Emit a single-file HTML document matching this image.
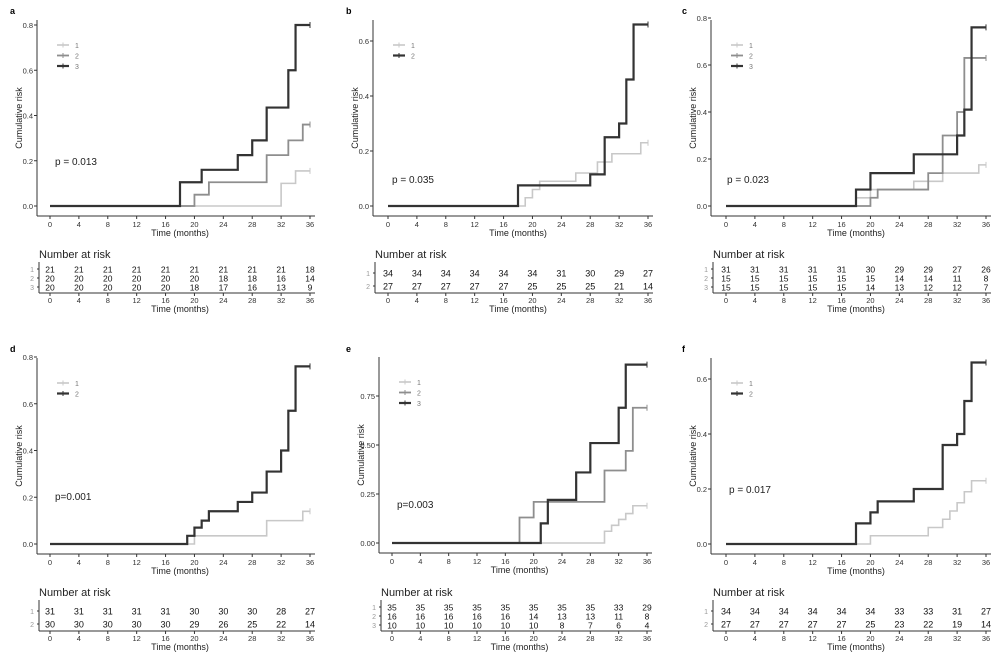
<!DOCTYPE html>
<html><head><meta charset="utf-8"><style>
html,body{margin:0;padding:0;background:#fff}
svg{display:block;font-family:"Liberation Sans",sans-serif}
</style></head><body>
<svg id="s" width="1006" height="660" viewBox="0 0 1006 660" xmlns="http://www.w3.org/2000/svg"></svg>
<script>
const P=[
{lab:'a',ox:0,oy:0,ax:37,x0:50,x36:310,y0:206,ys:45.25/0.2,ticks:[0,0.2,0.4,0.6,0.8],fmt:1,p:'p = 0.013',px:55,py:165,
 s:[[[32,.1],[34,.155]],[[20,.05],[22,.105],[30,.225],[33,.29],[35,.36]],[[18,.105],[21,.16],[26,.225],[28,.29],[30,.435],[33,.6],[34,.8]]],
 risk:[[21,21,21,21,21,21,21,21,21,18],[20,20,20,20,20,20,18,18,16,14],[20,20,20,20,20,18,17,16,13,9]]},
{lab:'b',ox:336,oy:0,ax:373,x0:388,x36:648,y0:206,ys:55/0.2,ticks:[0,0.2,0.4,0.6],fmt:1,p:'p = 0.035',px:392,py:183,
 s:[[[19,.03],[20,.06],[21,.09],[26,.12],[29,.16],[31,.19],[35,.23]],[[18,.075],[28,.115],[30,.25],[32,.3],[33,.46],[34,.66]]],
 risk:[[34,34,34,34,34,34,31,30,29,27],[27,27,27,27,27,25,25,25,21,14]]},
{lab:'c',ox:672,oy:0,ax:711,x0:726,x36:986,y0:206,ys:47/0.2,ticks:[0,0.2,0.4,0.6,0.8],fmt:1,p:'p = 0.023',px:727,py:183,
 s:[[[18,.035],[20,.07],[26,.105],[30,.14],[35,.175]],[[20,.035],[21,.07],[28,.14],[30,.3],[32,.4],[33,.63]],[[18,.07],[20,.14],[26,.22],[32,.3],[33,.41],[34,.76]]],
 risk:[[31,31,31,31,31,30,29,29,27,26],[15,15,15,15,15,15,14,14,11,8],[15,15,15,15,15,14,13,12,12,7]]},
{lab:'d',ox:0,oy:338,ax:37,x0:50,x36:310,y0:544,ys:46.75/0.2,ticks:[0,0.2,0.4,0.6,0.8],fmt:1,p:'p=0.001',px:55,py:500,
 s:[[[20,.035],[30,.1],[35,.14]],[[19,.035],[20,.07],[21,.1],[22,.14],[26,.18],[28,.22],[30,.31],[32,.4],[33,.57],[34,.76]]],
 risk:[[31,31,31,31,31,30,30,30,28,27],[30,30,30,30,30,29,26,25,22,14]]},
{lab:'e',ox:336,oy:338,ax:379,x0:392,x36:647,y0:543,ys:49/0.25,ticks:[0,0.25,0.5,0.75],fmt:2,p:'p=0.003',px:397,py:508,
 s:[[[30,.06],[31,.09],[32,.12],[33,.15],[34,.19]],[[18,.13],[20,.21],[30,.37],[33,.47],[34,.69]],[[21,.1],[22,.22],[26,.36],[28,.51],[32,.69],[33,.91]]],
 risk:[[35,35,35,35,35,35,35,35,33,29],[16,16,16,16,16,14,13,13,11,8],[10,10,10,10,10,10,8,7,6,4]]},
{lab:'f',ox:672,oy:338,ax:711,x0:726,x36:986,y0:544,ys:55/0.2,ticks:[0,0.2,0.4,0.6],fmt:1,p:'p = 0.017',px:729,py:493,
 s:[[[20,.03],[28,.06],[30,.09],[31,.12],[32,.15],[33,.19],[34,.23]],[[18,.075],[20,.115],[21,.155],[26,.2],[30,.36],[32,.4],[33,.52],[34,.66]]],
 risk:[[34,34,34,34,34,34,33,33,31,27],[27,27,27,27,27,25,23,22,19,14]]}
];
let h='';
const T=(x,y,t,sz,a,c,ex)=>`<text x="${x}" y="${y}" font-size="${sz}" text-anchor="${a||'start'}" fill="${c||'#222'}" ${ex||''}>${t}</text>`;
const L=(x1,y1,x2,y2,c,w)=>`<line x1="${x1}" y1="${y1}" x2="${x2}" y2="${y2}" stroke="${c||'#333'}" stroke-width="${w||1}"/>`;
for(const p of P){
 const X=t=>p.x0+(p.x36-p.x0)*t/36, Y=v=>p.y0-v*p.ys;
 const top=p.y0-186, bot=p.y0+10, oy=p.oy;
 h+=T(p.ox+10,oy+14,p.lab,9,'start','#000','font-weight="bold"');
 h+=L(p.ax,top,p.ax,bot)+L(p.ax,bot,p.x36+5,bot);
 for(const v of p.ticks){h+=L(p.ax-3,Y(v),p.ax,Y(v))+T(p.ax-4,Y(v)+3,v.toFixed(p.fmt),7.5,'end','#333');}
 for(let t=0;t<=36;t+=4){h+=L(X(t),bot,X(t),bot+3)+T(X(t),bot+11,t,7.5,'middle','#333');}
 h+=T((p.x0+p.x36)/2,bot+20,'Time (months)',9,'middle','#222');
 h+=T(p.ax-15,(top+bot)/2,'Cumulative risk',9,'middle','#222',`transform="rotate(-90 ${p.ax-15} ${(top+bot)/2})"`);
 const n=p.s.length, cols=n==3?['#c8c8c8','#8e8e8e','#333']:['#c8c8c8','#333'], ws=n==3?[1.6,1.8,2.2]:[1.6,2.2];
 for(let i=0;i<n;i++){
  let d=`M${X(0)},${Y(0)}`, cur=0;
  for(const [t,v] of p.s[i]){d+=` H${X(t)} V${Y(v)}`;cur=v;}
  d+=` H${X(36)}`;
  h+=`<path d="${d}" fill="none" stroke="${cols[i]}" stroke-width="${ws[i]}"/>`;
  h+=L(X(36),Y(cur)-3,X(36),Y(cur)+3,cols[i],1);
  const ly=top+25+i*10.5;
  h+=L(p.ax+20,ly,p.ax+32,ly,cols[i],ws[i])+L(p.ax+26,ly-2.5,p.ax+26,ly+2.5,cols[i],1);
  h+=T(p.ax+38,ly+3,i+1,7,'start','#777');
 }
 h+=T(p.px,p.py,p.p,10,'start','#222');
 h+=T(p.ax+2,oy+258,'Number at risk',11,'start','#222');
 const rows=n==3?[269,278,287]:[273,286], ab=oy+293, fs=n==3?8.5:9;
 h+=L(p.ax+2,oy+262,p.ax+2,ab)+L(p.ax+2,ab,p.x36+5,ab);
 for(let i=0;i<n;i++){
  const ry=oy+rows[i];
  h+=T(p.ax-3,ry+3,i+1,7,'end','#999')+L(p.ax,ry,p.ax+2,ry);
  p.risk[i].forEach((v,j)=>{h+=T(X(j*4),ry+3.5,v,fs,'middle','#111');});
 }
 for(let t=0;t<=36;t+=4){h+=L(X(t),ab,X(t),ab+3)+T(X(t),ab+10,t,7.5,'middle','#333');}
 h+=T((p.x0+p.x36)/2,ab+19,'Time (months)',9,'middle','#222');
}
document.getElementById('s').innerHTML=h;
</script>
</body></html>
